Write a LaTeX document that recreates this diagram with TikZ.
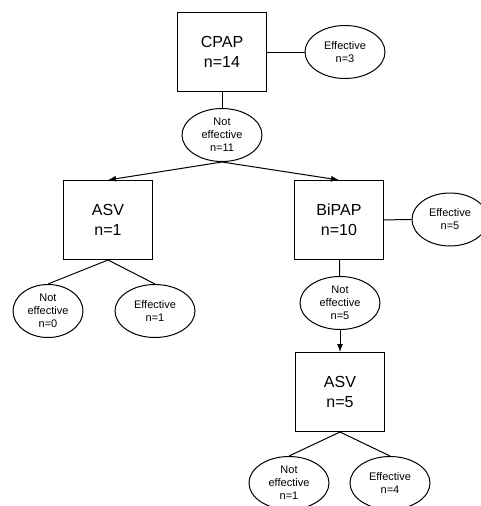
\documentclass[tikz,border=0pt]{standalone}
\usepackage{fontspec}
\setmainfont{Liberation Sans}
\usetikzlibrary{shapes.geometric,arrows.meta}
\tikzset{
  stage/.style={draw,line width=1pt,minimum width=89pt,minimum height=79pt,
    align=center,font=\fontsize{16}{20}\selectfont},
  result/.style={draw,ellipse,line width=1pt,inner sep=0pt,minimum width=80pt,
    minimum height=53pt,align=center,font=\fontsize{11}{13}\selectfont},
  link/.style={line width=1pt},
  flow/.style={line width=1pt,-{Latex[length=8pt,width=6pt]}}
}
\begin{document}
\begin{tikzpicture}[x=1pt,y=-1pt]
      \useasboundingbox (0,0) rectangle (480,506);
      \node[stage] (cpap) at (222,52) {CPAP\\n=14};
      \node[result] (eff3) at (345,52) {Effective\\n=3};
      \node[result] (neff11) at (222,135) {Not\\effective\\n=11};
      \node[stage] (asvone) at (108,220) {ASV\\n=1};
      \node[stage] (bipap) at (339,220) {BiPAP\\n=10};
      \node[result,minimum width=76pt] (eff5) at (450,219.5) {Effective\\n=5};
      \node[result,minimum width=70pt] (neff0) at (48,311) {Not\\effective\\n=0};
      \node[result] (eff1) at (155,311) {Effective\\n=1};
      \node[result] (neff5) at (340,303) {Not\\effective\\n=5};
      \node[stage] (asvfive) at (340,392) {ASV\\n=5};
      \node[result] (neff1) at (289,483) {Not\\effective\\n=1};
      \node[result] (eff4) at (390,483) {Effective\\n=4};
      % connectors
      \draw[link] (cpap) -- (eff3);
      \draw[link] (cpap) -- (neff11);
      \draw[flow] (neff11.south) -- (asvone.north);
      \draw[flow] (neff11.south) -- (bipap.north);
      \draw[link] (bipap) -- (eff5);
      \draw[link] (bipap) -- (neff5);
      \draw[flow] (neff5) -- (asvfive);
      \draw[link] (asvone.south) -- (neff0.north);
      \draw[link] (asvone.south) -- (eff1.north);
      \draw[link] (asvfive.south) -- (neff1.north);
      \draw[link] (asvfive.south) -- (eff4.north);
    \end{tikzpicture}
\end{document}
